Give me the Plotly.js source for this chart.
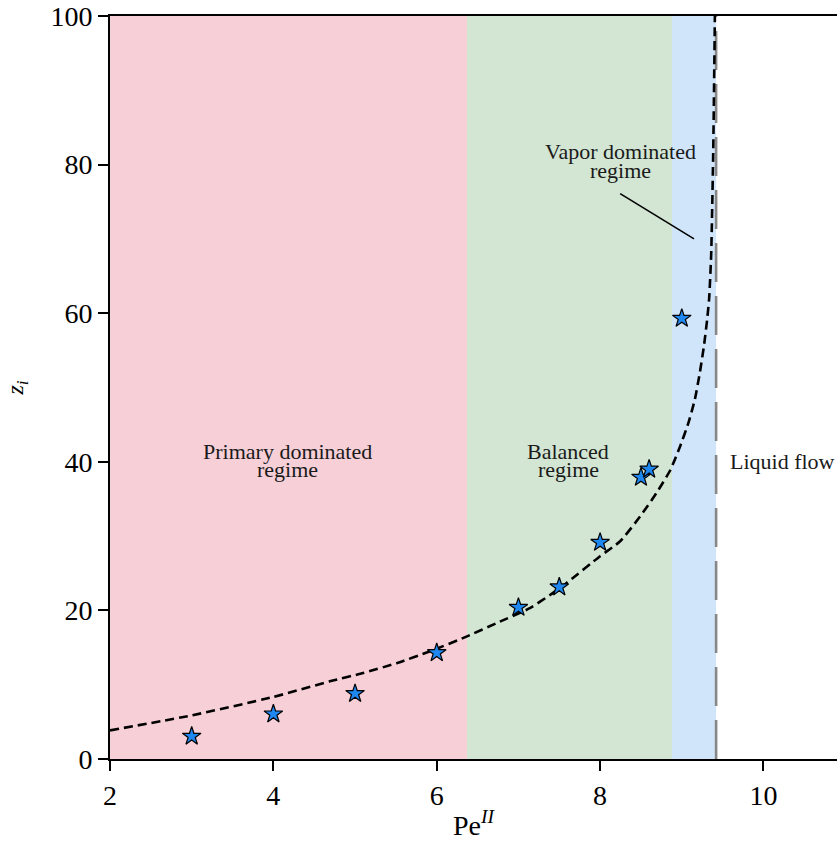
<!DOCTYPE html>
<html>
<head>
<meta charset="utf-8">
<script src="https://cdn.plot.ly/plotly-3.0.1.min.js"></script>
<style>html,body{margin:0;padding:0;background:#fff;}#chart{width:837px;height:845px;}</style>
</head>
<body>
<div id="chart"></div>
<script>
// Measured points (stars)
const peData = [3, 4, 5, 6, 7, 7.5, 8, 8.5, 8.6, 9];
const ziData = [3.05, 6.05, 8.8, 14.3, 20.4, 23.15, 29.15, 37.9, 39.0, 59.3];

// Dashed model curve
const peCurve = [2.0, 3.0, 4.0, 4.69, 5.1, 5.51, 5.92, 6.37, 6.735, 7.14, 7.39, 7.59, 8.0, 8.245, 8.49, 8.69, 8.86, 8.98, 9.08, 9.16, 9.22, 9.27, 9.31, 9.335, 9.36, 9.385, 9.405];
const ziCurve = [3.85, 5.87, 8.35, 10.45, 11.57, 12.9, 14.5, 16.5, 18.3, 20.3, 22.1, 23.7, 27.3, 29.3, 32.65, 35.8, 38.9, 42.1, 45.2, 48.4, 51.95, 55.5, 59.1, 62, 68, 82, 100];

// Regime boundaries (Pe^II) and the liquid-flow limit
const regimeBounds = [2, 6.37, 8.88, 9.42];
const regimeColors = ['#F6CFD7', '#D2E6D3', '#D0E5FA'];
const liquidLimit = 9.42;

// Axis ticks
const xTicks = [2, 4, 6, 8, 10];
const yTicks = [0, 20, 40, 60, 80, 100];

const serif = 'Liberation Serif, Times New Roman, serif';

const traces = [
  {
    x: [liquidLimit, liquidLimit], y: [0, 100], mode: 'lines',
    line: {color: '#888888', width: 2.6, dash: '39px,14px'},
    hoverinfo: 'skip', showlegend: false
  },
  {
    x: peCurve, y: ziCurve, mode: 'lines',
    line: {color: '#000000', width: 2.6, dash: '9px,5px', shape: 'spline', smoothing: 0.5},
    showlegend: false
  },
  {
    x: peData, y: ziData, mode: 'markers',
    marker: {symbol: 'star', size: 14, color: '#1E88F0', line: {color: '#000000', width: 1.2}},
    showlegend: false, cliponaxis: false
  }
];

const shapes = [];
for (let i = 0; i < regimeColors.length; i++) {
  shapes.push({
    type: 'rect', xref: 'x', yref: 'y', layer: 'below',
    x0: regimeBounds[i], x1: regimeBounds[i + 1], y0: 0, y1: 100,
    fillcolor: regimeColors[i], line: {width: 0}
  });
}
shapes.push({
  type: 'line', xref: 'x', yref: 'y', layer: 'above',
  x0: 8.245, y0: 76.1, x1: 9.15, y1: 70.0,
  line: {color: '#000000', width: 1.6}
});

const annFont = {family: serif, size: 22, color: '#1a1a1a'};
function ann(text, x, y, xanchor) {
  return {text: text, x: x, y: y, xref: 'x', yref: 'y', showarrow: false,
          xanchor: xanchor || 'center', yanchor: 'middle', font: annFont};
}
const annotations = [
  ann('Primary dominated', 4.17, 41.4),
  ann('regime', 4.17, 38.9),
  ann('Balanced', 7.61, 41.4),
  ann('regime', 7.61, 38.9),
  ann('Vapor dominated', 8.245, 81.8),
  ann('regime', 8.245, 79.2),
  ann('Liquid flow', 9.57, 40.05, 'left')
];

const layout = {
  width: 837, height: 845,
  margin: {l: 110, r: 0, t: 16, b: 86},
  paper_bgcolor: '#ffffff', plot_bgcolor: '#ffffff',
  font: {family: serif, color: '#000000'},
  showlegend: false,
  xaxis: {
    range: [2, 10.9], tickvals: xTicks, ticktext: xTicks.map(String),
    ticks: 'outside', ticklen: 10, tickwidth: 2, tickcolor: '#000',
    showline: true, linewidth: 2, linecolor: '#000', mirror: true,
    showgrid: false, zeroline: false,
    tickfont: {family: serif, size: 28, color: '#000'},
    title: {text: 'Pe<sup><i>II</i></sup>', font: {family: serif, size: 28, color: '#000'}, standoff: 6}
  },
  yaxis: {
    range: [0, 100], tickvals: yTicks, ticktext: yTicks.map(String),
    ticks: 'outside', ticklen: 10, tickwidth: 2, tickcolor: '#000',
    showline: true, linewidth: 2, linecolor: '#000', mirror: false,
    showgrid: false, zeroline: false,
    tickfont: {family: serif, size: 28, color: '#000'},
    title: {text: '<i>z</i><sub><i>i</i></sub>', font: {family: serif, size: 24, color: '#000'}, standoff: 20}
  },
  shapes: shapes,
  annotations: annotations
};

Plotly.newPlot('chart', traces, layout, {displayModeBar: false, staticPlot: true});
</script>
</body>
</html>
